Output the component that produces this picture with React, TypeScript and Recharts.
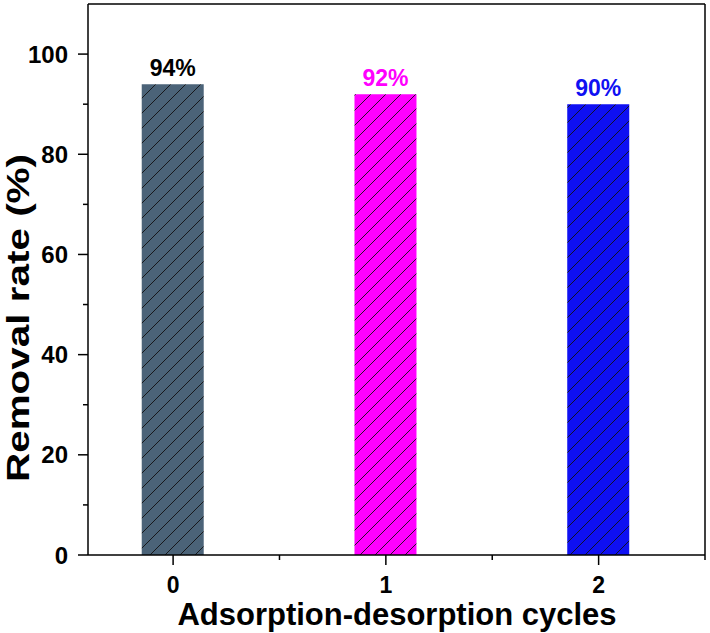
import { BarChart, Bar, XAxis, YAxis, Cell, LabelList, ReferenceLine } from 'recharts'

const cycles = [0, 1, 2]
const removalRates = [94, 92, 90]
const rateLabels = ['94%', '92%', '90%']
const barColors = ['#4b6378', '#ff00ff', '#0f10f2']
const labelColors = ['#000000', '#ff00ff', '#0f10f2']
const yTicks = [0, 10, 20, 30, 40, 50, 60, 70, 80, 90, 100]
const xTicks = [0, 0.5, 1, 1.5, 2, 2.5]

const FONT = '"Liberation Sans", Arial, sans-serif'

const data = cycles.map((c, i) => ({ cycle: c, rate: removalRates[i], label: rateLabels[i] }))

function YTick({ x, y, payload }: any) {
  const major = payload.value % 20 === 0
  return (
    <g>
      <line x1={x - (major ? 10 : 5)} x2={x} y1={y} y2={y} stroke="#000" strokeWidth={1.5} />
      {major && (
        <text x={x - 20} y={y} dy="0.36em" textAnchor="end" fontSize={24} fontWeight="bold" fontFamily={FONT} fill="#000">
          {payload.value}
        </text>
      )}
    </g>
  )
}

function XTick({ x, y, payload }: any) {
  const major = Number.isInteger(payload.value)
  return (
    <g>
      <line x1={x} x2={x} y1={y} y2={y + (major ? 10 : 5)} stroke="#000" strokeWidth={1.5} />
      {major && (
        <text x={x} y={y + 38} textAnchor="middle" fontSize={23} fontWeight="bold" fontFamily={FONT} fill="#000">
          {payload.value}
        </text>
      )}
    </g>
  )
}

function RateLabel(props: any) {
  const { x, y, width, index, value } = props
  return (
    <text x={x + width / 2} y={y - 8} textAnchor="middle" fontSize={23} fontWeight="bold" fontFamily={FONT} fill={labelColors[index]}>
      {value}
    </text>
  )
}

function YTitle() {
  return (
    <text
      transform="translate(29, 318) rotate(-90)"
      textAnchor="middle"
      fontSize={32}
      fontWeight="bold"
      fontFamily={FONT}
      fill="#000"
      textLength={328}
      lengthAdjust="spacingAndGlyphs"
    >
      Removal rate (%)
    </text>
  )
}

function XTitle() {
  return (
    <text x={397} y={625} textAnchor="middle" fontSize={31} fontWeight="bold" fontFamily={FONT} fill="#000">
      Adsorption-desorption cycles
    </text>
  )
}

export default function App() {
  return (
    <div style={{ position: 'absolute', left: 0, top: 0, background: '#fff' }}>
      <BarChart width={710} height={633} data={data} margin={{ top: 4, right: 5, left: 0, bottom: 0 }}>
        <defs>
          {barColors.map((c, i) => (
            <pattern key={i} id={`hatch${i}`} patternUnits="userSpaceOnUse" width={15} height={15}>
              <rect width={15} height={15} fill={c} />
              <path d="M-1,16 L16,-1 M-4,4 L4,-4 M11,19 L19,11" stroke="#111" strokeWidth={0.9} />
            </pattern>
          ))}
        </defs>
        <XAxis
          dataKey="cycle"
          type="number"
          domain={[-0.4, 2.5]}
          ticks={xTicks}
          interval={0}
          height={78}
          tickSize={0}
          tickMargin={0}
          tick={<XTick />}
          axisLine={{ stroke: '#000', strokeWidth: 1.5 }}
          label={<XTitle />}
        />
        <YAxis
          type="number"
          domain={[0, 110]}
          ticks={yTicks}
          interval={0}
          width={88}
          tickSize={0}
          tickMargin={0}
          tick={<YTick />}
          axisLine={{ stroke: '#000', strokeWidth: 1.5 }}
          label={<YTitle />}
        />
        <ReferenceLine y={110} stroke="#000" strokeWidth={1.5} />
        <ReferenceLine x={2.5} stroke="#000" strokeWidth={1.5} />
        <Bar dataKey="rate" barSize={62} isAnimationActive={false}>
          {data.map((_, i) => (
            <Cell key={i} fill={`url(#hatch${i})`} />
          ))}
          <LabelList dataKey="label" content={<RateLabel />} />
        </Bar>
      </BarChart>
    </div>
  )
}
